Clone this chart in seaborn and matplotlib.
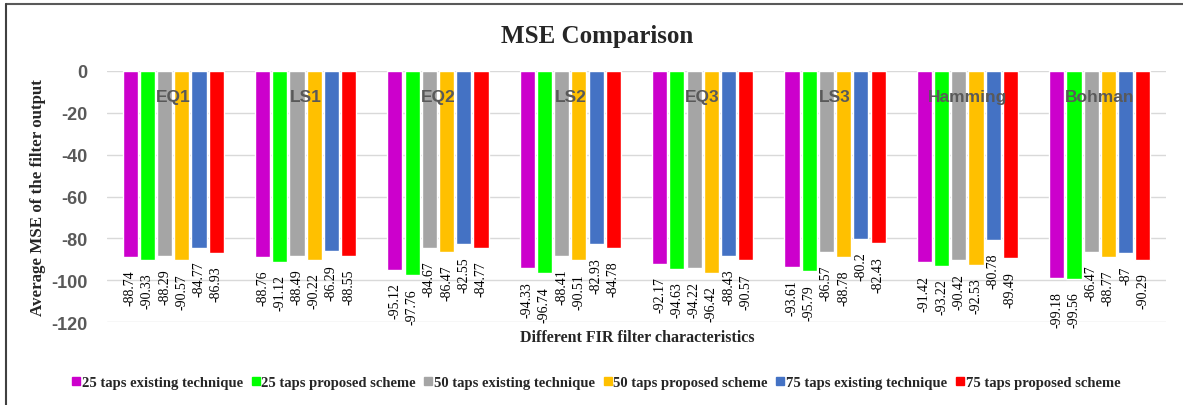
import numpy as np
import pandas as pd
import matplotlib
matplotlib.use("Agg")
import matplotlib.pyplot as plt
from matplotlib.lines import Line2D
import seaborn as sns

# Filter characteristics (categories) and series
categories = ["EQ1", "LS1", "EQ2", "LS2", "EQ3", "LS3", "Hamming", "Bohman"]
series = [
    "25 taps existing technique",
    "25 taps proposed scheme",
    "50 taps existing technique",
    "50 taps proposed scheme",
    "75 taps existing technique",
    "75 taps proposed scheme",
]
taps25_existing = [-88.74, -88.76, -95.12, -94.33, -92.17, -93.61, -91.42, -99.18]
taps25_proposed = [-90.33, -91.12, -97.76, -96.74, -94.63, -95.79, -93.22, -99.56]
taps50_existing = [-88.29, -88.49, -84.67, -88.41, -94.22, -86.57, -90.42, -86.47]
taps50_proposed = [-90.57, -90.22, -86.47, -90.51, -96.42, -88.78, -92.53, -88.77]
taps75_existing = [-84.77, -86.29, -82.55, -82.93, -88.43, -80.2, -80.78, -87]
taps75_proposed = [-86.93, -88.55, -84.77, -84.78, -90.57, -82.43, -89.49, -90.29]
y_ticks = [0, -20, -40, -60, -80, -100, -120]

colors = ["#CC00CC", "#00FF00", "#A5A5A5", "#FFC000", "#4472C4", "#FF0000"]

values = [taps25_existing, taps25_proposed, taps50_existing,
          taps50_proposed, taps75_existing, taps75_proposed]
df = pd.DataFrame(
    [(c, s, v) for s, vals in zip(series, values) for c, v in zip(categories, vals)],
    columns=["category", "series", "mse"],
)

sns.set_theme(style="white")
serif = ["Liberation Serif", "DejaVu Serif"]
sans = ["Liberation Sans", "DejaVu Sans"]

fig = plt.figure(figsize=(11.83, 4.06), dpi=100)
ax = fig.add_axes([107 / 1183, 1 - 323 / 406, (1166 - 107) / 1183, (323 - 72) / 406])

sns.barplot(data=df, x="category", y="mse", hue="series", order=categories,
            hue_order=series, palette=colors, width=0.78, gap=0.12,
            saturation=1, ax=ax, legend=False, errorbar=None)

ax.set_ylim(-120, 0)
ax.set_xlim(-0.5, len(categories) - 0.5)
ax.set_yticks(y_ticks)
ax.set_yticklabels([str(t) for t in y_ticks], family=sans, fontweight="bold",
                   fontsize=13, color="#595959")
ax.tick_params(axis="y", length=0, pad=14)
ax.set_xticks([])
ax.set_xlabel("")
ax.set_ylabel("")
ax.grid(axis="y", color="#D9D9D9", linewidth=1.0)
ax.set_axisbelow(True)
for sp in ax.spines.values():
    sp.set_visible(False)

# Value labels under each bar, rotated
for cont in ax.containers:
    for bar in cont:
        h = bar.get_height()
        ax.annotate(f"{h:g}", (bar.get_x() + bar.get_width() / 2, h),
                    xytext=(0, -9), textcoords="offset points",
                    rotation=90, ha="center", va="top",
                    family=serif, fontsize=10, color="black")

# Category names inside the plot
for i, c in enumerate(categories):
    ax.text(i, -12, c, ha="center", va="center", family=sans,
            fontweight="bold", fontsize=12.5, color="#595959")

fig.text(597 / 1183, 1 - 36 / 406, "MSE Comparison", ha="center", va="center",
         family=serif, fontweight="bold", fontsize=18)
fig.text(637 / 1183, 1 - 338 / 406, "Different FIR filter characteristics",
         ha="center", va="center", family=serif, fontweight="bold", fontsize=11.5)
fig.text(38 / 1183, 1 - 198 / 406, "Average MSE of the filter output",
         ha="center", va="center", rotation=90, family=serif,
         fontweight="bold", fontsize=12.2)

handles = [Line2D([], [], marker="s", linestyle="none", markersize=6,
                  markerfacecolor=c, markeredgecolor=c) for c in colors]
fig.legend(handles, series, loc="center", bbox_to_anchor=(596 / 1183, 1 - 383 / 406),
           ncol=6, frameon=False, handlelength=0.6, handletextpad=0.1,
           columnspacing=0.55, prop={"family": serif, "weight": "bold", "size": 10.5})

# Chart frame edges
fig.add_artist(Line2D([6 / 1183, 1], [1 - 5 / 406] * 2, color="#595959", linewidth=1.5))
fig.add_artist(Line2D([6 / 1183] * 2, [0, 1 - 5 / 406], color="#404040", linewidth=1.5))

fig.savefig("out.png", dpi=100)
